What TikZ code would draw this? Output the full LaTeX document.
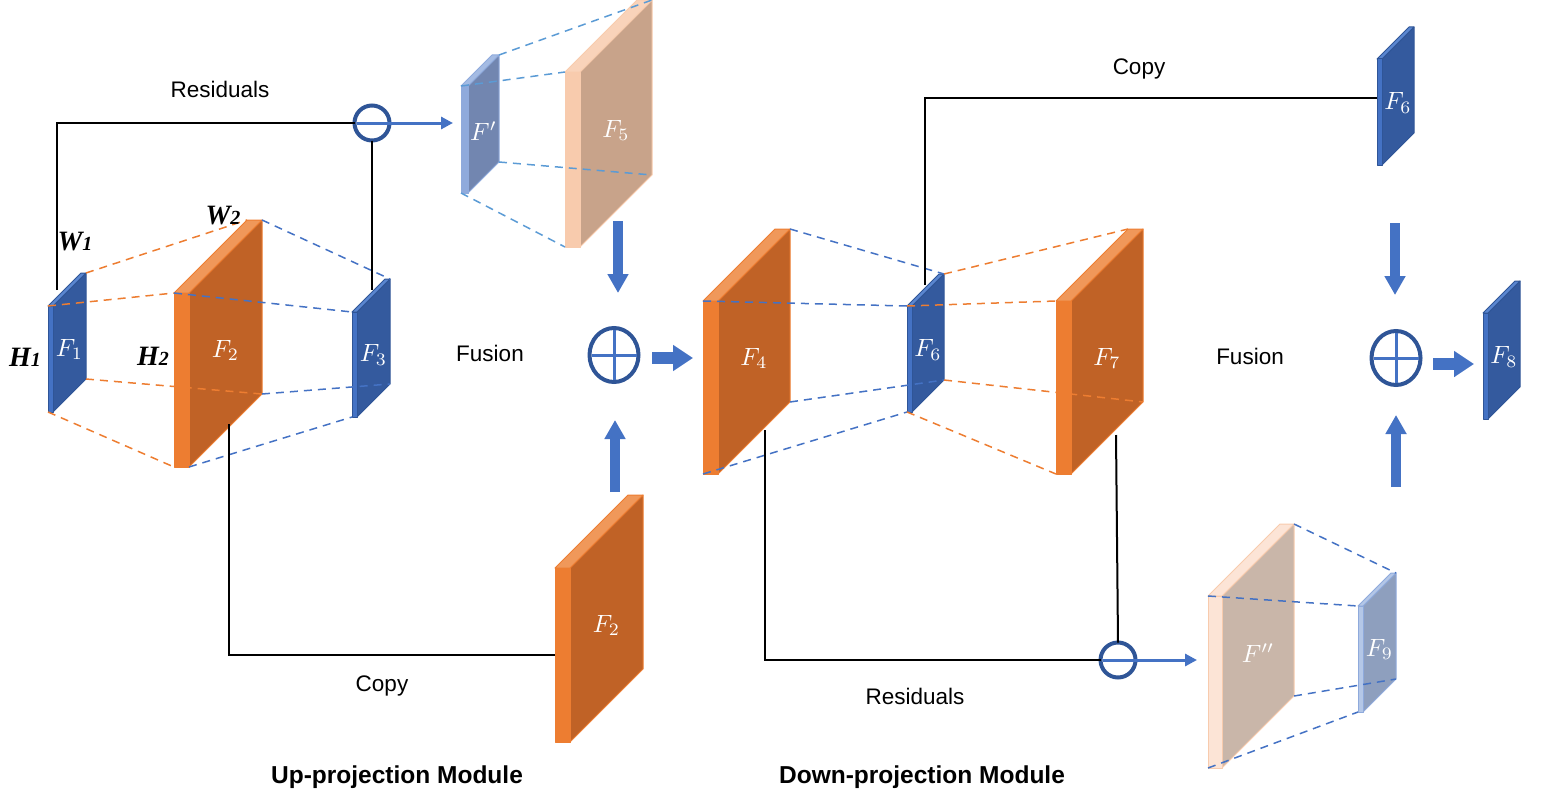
\documentclass[tikz,border=0pt]{standalone}
\usepackage{fontspec}
\setmainfont{Liberation Sans}
\newfontfamily\wfont{Liberation Serif}
\usetikzlibrary{arrows.meta,shapes.geometric}
% blue slab
\definecolor{BS}{HTML}{4472C4}\definecolor{BF}{HTML}{345A9E}\definecolor{BT}{HTML}{5A86D0}\definecolor{BE}{HTML}{2F5597}
% orange slab
\definecolor{OS}{HTML}{ED7D31}\definecolor{OF}{HTML}{C06226}\definecolor{OT}{HTML}{F0985A}\definecolor{OE}{HTML}{ED7D31}
% peach slab (F5)
\definecolor{PS}{HTML}{F8CBAD}\definecolor{PF}{HTML}{C8A38A}\definecolor{PT}{HTML}{F9D3BA}\definecolor{PE}{HTML}{F8CBAD}
% light peach slab (F'')
\definecolor{QS}{HTML}{FCE4D6}\definecolor{QF}{HTML}{C9B6A9}\definecolor{QT}{HTML}{FCE4D6}\definecolor{QE}{HTML}{F8CBAD}
% light blue slab (F')
\definecolor{LS}{HTML}{8FAADC}\definecolor{LF}{HTML}{7286B0}\definecolor{LT}{HTML}{A4BBE3}\definecolor{LE}{HTML}{8FAADC}
% greyish blue slab (F9)
\definecolor{MS}{HTML}{B4C7E7}\definecolor{MF}{HTML}{8E9FBE}\definecolor{MT}{HTML}{B4C7E7}\definecolor{ME}{HTML}{8FAADC}
\definecolor{DB}{HTML}{4472C4}\definecolor{DO}{HTML}{ED7D31}\definecolor{DL}{HTML}{5B9BD5}
\definecolor{CB}{HTML}{2F5597}\definecolor{CL}{HTML}{4472C4}
\newcommand{\slab}[8]{%
 \coordinate (#1A) at (#2,#3);
 \coordinate (#1F) at (#2+#4,#3);
 \coordinate (#1B) at (#2+#5,#3-#5);
 \coordinate (#1C) at (#2+#4+#5,#3-#5);
 \coordinate (#1D) at (#2+#4+#5,#3-#5+#6);
 \coordinate (#1E) at (#2,#3+#6);
 \coordinate (#1G) at (#2+#4,#3+#6);
 \filldraw[fill=#7F, draw=#7E, line width=1pt, line join=round] (#1F)--(#1C)--(#1D)--(#1G)--cycle;
 \filldraw[fill=#7T, draw=#7E, line width=1pt, line join=round] (#1A)--(#1B)--(#1C)--(#1F)--cycle;
 \filldraw[fill=#7S, draw=#7E, line width=1pt, line join=round] (#1A)--(#1F)--(#1G)--(#1E)--cycle;
 \node[lab] (#1) at (#2+#4+#5/2,#3+#6/2-#5/2+7) {\scalebox{2.5}{#8}};
}
\begin{document}
\begin{tikzpicture}[x=1pt,y=-1pt,
 lab/.style={text=white, font=\normalsize, inner sep=0pt},
 txt/.style={font=\fontsize{22.5}{26}\selectfont, inner sep=0pt},
 ttl/.style={font=\fontsize{24.5}{28}\selectfont\bfseries, inner sep=0pt},
 dim/.style={font=\wfont\fontsize{28}{30}\selectfont\bfseries\itshape, inner sep=0pt},
 dsh/.style={dash pattern=on 8pt off 6pt, line width=1.5pt},
 blk/.style={draw=black, line width=2pt},
 barrow/.style={draw=BS, line width=10pt, -{Triangle[length=19pt,width=20pt]}},
 rarrow/.style={draw=BS, line width=12pt, -{Triangle[length=20pt,width=25pt]}},
 plus/.style={ellipse, draw=CB, line width=4pt, minimum width=49pt, minimum height=54pt, inner sep=0pt, outer sep=0pt},
 minus/.style={circle, draw=CB, line width=4pt, minimum size=35pt, inner sep=0pt, outer sep=0pt},
 cross/.style={draw=CL, line width=3pt, shorten <=2pt, shorten >=2pt}]
\useasboundingbox (0,0) rectangle (1557,808);

% ---------------- slabs ----------------
\slab{f1}{48}{306}{5}{33}{106}{B}{$F_1$}
\slab{f2}{174}{293}{15}{73}{174}{O}{$F_2$}
\slab{f3}{352}{312}{5}{33}{105}{B}{$F_3$}
\slab{fp}{461}{86}{7}{31}{107}{L}{$F'$}
\slab{f5}{565}{72}{15}{72}{175}{P}{$F_5$}
\slab{f2b}{555}{568}{15}{73}{174}{O}{$F_2$}
\slab{f4}{703}{301}{15}{72}{173}{O}{$F_4$}
\slab{f6}{907}{306}{5}{32}{106}{B}{$F_6$}
\slab{f7}{1056}{301}{15}{72}{173}{O}{$F_7$}
\slab{f6b}{1377}{59}{5}{32}{106}{B}{$F_6$}
\slab{f8}{1483}{313}{5}{32}{106}{B}{$F_8$}
\slab{fpp}{1208}{596}{14}{72}{172}{Q}{$F''$}
\slab{f9}{1358}{606}{5}{33}{106}{M}{$F_9$}

% ---------------- dashed projections ----------------
\draw[dsh, draw=DO] (f1C) -- (f2B);
\draw[dsh, draw=DO] (f1A) -- (f2A);
\draw[dsh, draw=DO] (f1D) -- (f2D);
\draw[dsh, draw=DO] (f1E) -- (f2E);
\draw[dsh, draw=DB] (f2C) -- (f3C);
\draw[dsh, draw=DB] (f2A) -- (f3A);
\draw[dsh, draw=DB] (f2D) -- (f3D);
\draw[dsh, draw=DB] (f2G) -- (f3E);

\draw[dsh, draw=DL] (fpC) -- (f5C);
\draw[dsh, draw=DL] (fpA) -- (f5A);
\draw[dsh, draw=DL] (fpD) -- (f5D);
\draw[dsh, draw=DL] (fpE) -- (f5E);

\draw[dsh, draw=DB] (f4C) -- (f6C);
\draw[dsh, draw=DB] (f4A) -- (f6A);
\draw[dsh, draw=DB] (f4D) -- (f6D);
\draw[dsh, draw=DB] (f4E) -- (f6E);
\draw[dsh, draw=DO] (f6C) -- (f7B);
\draw[dsh, draw=DO] (f6A) -- (f7A);
\draw[dsh, draw=DO] (f6D) -- (f7D);
\draw[dsh, draw=DO] (f6E) -- (f7E);

\draw[dsh, draw=DB] (fppC) -- (f9C);
\draw[dsh, draw=DB] (fppA) -- (f9A);
\draw[dsh, draw=DB] (fppD) -- (f9D);
\draw[dsh, draw=DB] (fppE) -- (f9E);

% ---------------- residual / copy connectors ----------------
\node[minus] (r1) at (372,123) {};
\node[minus] (r2) at (1118,660) {};
\coordinate (c1) at (57,290);
\coordinate (c3) at (372,290);
\coordinate (a1) at (453,123);
\draw[blk] (c1) |- (r1.west);
\draw[blk] (r1.south) -- (c3);
\draw[draw=CL, line width=3pt, -{Triangle[length=12pt,width=12pt]}] ([xshift=2pt]r1.west) -- (a1);

\coordinate (cp1) at (229,424);
\coordinate (cp2) at (555,655);
\draw[blk] (cp1) |- (cp2);

\coordinate (cm1) at (925,285);
\coordinate (cm2) at (1377,98);
\draw[blk] (cm1) |- (cm2);

\coordinate (rb1) at (765,430);
\coordinate (rb2) at (1116,435);
\coordinate (a2) at (1197,660);
\draw[blk] (rb1) |- (r2.west);
\draw[blk] (rb2) -- (r2.north);
\draw[draw=CL, line width=3pt, -{Triangle[length=12pt,width=12pt]}] ([xshift=2pt]r2.west) -- (a2);

% ---------------- fusion ----------------
\node[plus] (p1) at (614,355) {};
\draw[cross] (p1.west) -- (p1.east);
\draw[cross] (p1.north) -- (p1.south);
\node[plus] (p2) at (1396,358) {};
\draw[cross] (p2.west) -- (p2.east);
\draw[cross] (p2.north) -- (p2.south);

\coordinate (d1s) at (618,221); \coordinate (d1e) at (618,293);
\coordinate (u1s) at (615,492); \coordinate (u1e) at (615,420);
\coordinate (r1s) at (652,358); \coordinate (r1e) at (693,358);
\coordinate (d2s) at (1395,223); \coordinate (d2e) at (1395,295);
\coordinate (u2s) at (1396,487); \coordinate (u2e) at (1396,415);
\coordinate (r2s) at (1433,364); \coordinate (r2e) at (1474,364);
\draw[barrow] (d1s) -- (d1e);
\draw[barrow] (u1s) -- (u1e);
\draw[rarrow] (r1s) -- (r1e);
\draw[barrow] (d2s) -- (d2e);
\draw[barrow] (u2s) -- (u2e);
\draw[rarrow] (r2s) -- (r2e);

% ---------------- texts ----------------
\node[txt] (tres1) at (220,89) {Residuals};
\node[txt] (tcopy1) at (382,686) {Copy};
\node[txt] (tfus1) at (490,353) {Fusion};
\node[txt] (tcopy2) at (1139,69) {Copy};
\node[txt] (tfus2) at (1250,356) {Fusion};
\node[txt] (tres2) at (915,696) {Residuals};
\node[ttl] (tup) at (397,777) {Up-projection Module};
\node[ttl] (tdown) at (922,777) {Down-projection Module};

\node[dim] (w1) at (75,242) {W{\fontsize{20}{22}\selectfont 1}};
\node[dim] (h1) at (25,357) {H{\fontsize{20}{22}\selectfont 1}};
\node[dim] (h2) at (153,356) {H{\fontsize{20}{22}\selectfont 2}};
\node[dim] (w2) at (223,216) {W{\fontsize{20}{22}\selectfont 2}};
\end{tikzpicture}
\end{document}
